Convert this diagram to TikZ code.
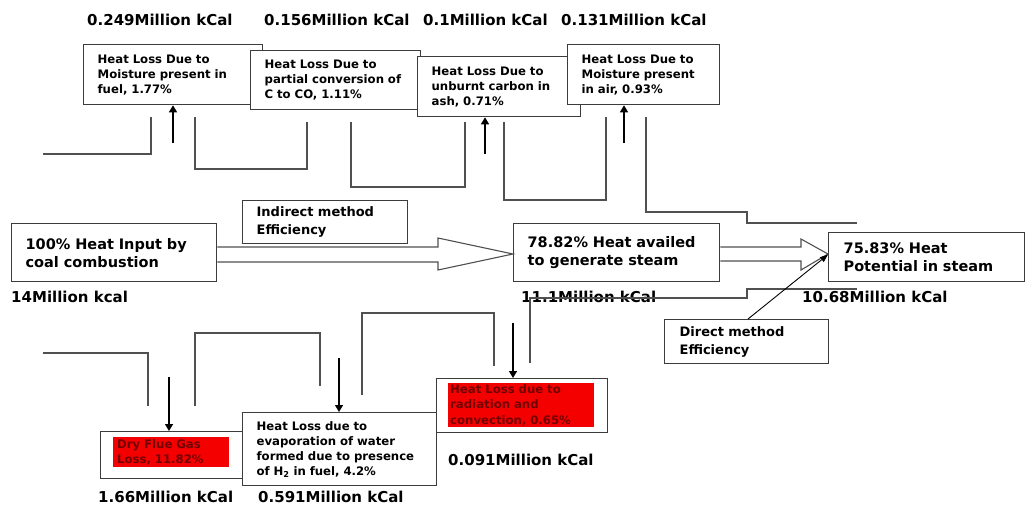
\documentclass[tikz,border=0pt]{standalone}
\usepackage{fontspec}
\setmainfont{DejaVu Sans}
\usetikzlibrary{arrows.meta,calc}
\definecolor{ln}{HTML}{3C3C3C}
\definecolor{pp}{HTML}{505050}
\definecolor{dred}{RGB}{115,0,0}
\definecolor{rbox}{RGB}{245,0,0}
\begin{document}
\begin{tikzpicture}[x=1pt,y=-1pt,
  box/.style={draw=ln, line width=1.3pt, fill=white, anchor=north west, inner xsep=14pt, inner ysep=0pt, align=left, font=\bfseries\fontsize{11.7}{15}\selectfont},
  bigbox/.style={box, font=\bfseries\fontsize{14.5}{18}\selectfont},
  midbox/.style={box, font=\bfseries\fontsize{13}{18}\selectfont},
  redbox/.style={fill=rbox, text=dred, anchor=north west, inner ysep=0pt, align=left, font=\bfseries\fontsize{11.7}{15.5}\selectfont},
  lbl/.style={anchor=base west, inner sep=0pt, font=\bfseries\fontsize{15}{18}\selectfont},
  pipe/.style={draw=pp, line width=1.1pt},
  arr/.style={draw=black, line width=1.4pt, -{Triangle[length=7pt,width=8pt]}},
  darr/.style={draw=black, line width=0.9pt, -{Triangle[length=8pt,width=6pt]}},
  hollow/.style={draw=pp, line width=1.1pt, fill=white},
]
\useasboundingbox (0,0) rectangle (1026,507);

% top value labels
\node[lbl] (l1) at (87,25.5) {0.249Million kCal};
\node[lbl] (l2) at (264,25.5) {0.156Million kCal};
\node[lbl] (l3) at (423,25.5) {0.1Million kCal};
\node[lbl] (l4) at (561,25.5) {0.131Million kCal};

% top boxes
\node[box, text width=151pt, minimum height=60pt] (b1) at (83,44) {Heat Loss Due to\\Moisture present in\\fuel, 1.77\%};
\node[box, text width=142pt, minimum height=59pt] (b2) at (250,50) {Heat Loss Due to\\partial conversion of\\C to CO, 1.11\%};
\node[box, text width=135pt, minimum height=60pt] (b3) at (417,56) {Heat Loss Due to\\unburnt carbon in\\ash, 0.71\%};
\node[box, text width=124pt, minimum height=60pt] (b4) at (567,44) {Heat Loss Due to\\Moisture present\\in air, 0.93\%};

% top pipes
\draw[pipe] (43,154) -- (151,154) -- (151,117);
\draw[pipe] (195,117) -- (195,169) -- (307,169) -- (307,122);
\draw[pipe] (351,122) -- (351,187) -- (465,187) -- (465,122);
\draw[pipe] (504,122) -- (504,200) -- (606,200) -- (606,117);
\draw[pipe] (646,117) -- (646,212) -- (747,212) -- (747,223) -- (857,223);

% up arrows
\coordinate (u1) at (173,143);
\coordinate (u3) at (485,154);
\coordinate (u4) at (624,143);
\draw[arr] (u1) -- (u1 |- b1.south);
\draw[arr] (u3) -- (u3 |- b3.south);
\draw[arr] (u4) -- (u4 |- b4.south);

% middle
\node[bigbox, text width=177pt, minimum height=58pt] (in) at (11,223) {100\% Heat Input by\\coal combustion};
\node[midbox, text width=137pt, minimum height=43pt] (ind) at (242,200) {Indirect method\\Efficiency};
\node[bigbox, text width=178pt, minimum height=58pt] (av) at (513,223) {78.82\% Heat availed\\to generate steam};
\node[bigbox, text width=166pt, minimum height=49pt, inner xsep=15pt] (en) at (828,232) {75.83\% Heat\\Potential in steam};
\node[midbox, text width=134pt, minimum height=44pt, inner xsep=15pt] (dm) at (664,319) {Direct method\\Efficiency};

\draw[hollow] (in.east |- 0,247) -- (438,247) -- (438,238) -- (av.west |- 0,254) -- (438,270) -- (438,262) -- (in.east |- 0,262);
\draw[hollow] (av.east |- 0,247) -- (801,247) -- (801,239) -- (en.west |- 0,254) -- (801,270) -- (801,261) -- (av.east |- 0,261);

\node[lbl] (l5) at (11,302.5) {14Million kcal};
\node[lbl] (l6) at (521,302.5) {11.1Million kCal};
\node[lbl] (l7) at (802,302.5) {10.68Million kCal};

\draw[pipe] (530,363) -- (530,298) -- (747,298) -- (747,289) -- (857,289);

\draw[darr] ($(dm.north west)+(84,0)$) -- ($(en.south west)!0.55!(en.north west)$);

% bottom pipes
\draw[pipe] (43,353) -- (148,353) -- (148,406);
\draw[pipe] (195,406) -- (195,333) -- (320,333) -- (320,386);
\draw[pipe] (362,395) -- (362,313) -- (494,313) -- (494,366);

% bottom boxes
\node[box, minimum width=142pt, minimum height=47pt] (dfo) at (100,431) {};
\node[redbox, text width=108pt, inner xsep=4pt, minimum height=30pt] (df) at (113,437) {Dry Flue Gas\\Loss, 11.82\%};
\node[box, text width=166pt, minimum height=73pt] (ev) at (242,412) {Heat Loss due to\\evaporation of water\\formed due to presence\\of H\textsubscript{2} in fuel, 4.2\%};
\node[box, minimum width=171pt, minimum height=54pt] (rdo) at (436,378) {};
\node[redbox, text width=142pt, inner xsep=2pt, minimum height=44pt] (rd) at (448,383) {Heat Loss due to\\radiation and\\convection, 0.65\%};

% down arrows
\coordinate (d1) at (169,377);
\coordinate (d2) at (339,358);
\coordinate (d3) at (513,323);
\draw[arr] (d1) -- (d1 |- dfo.north);
\draw[arr] (d2) -- (d2 |- ev.north);
\draw[arr] (d3) -- (d3 |- rdo.north);

\node[lbl] (l8) at (448,465.5) {0.091Million kCal};
\node[lbl] (l9) at (98,502.5) {1.66Million kCal};
\node[lbl] (l10) at (258,502.5) {0.591Million kCal};
\end{tikzpicture}
\end{document}
